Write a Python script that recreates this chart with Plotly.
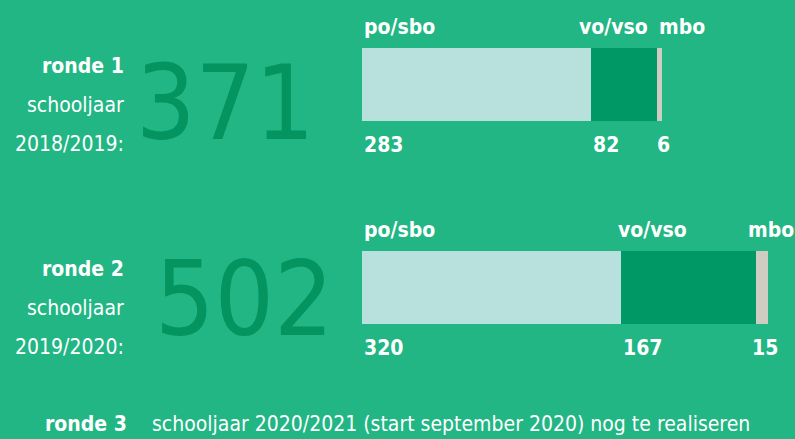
import plotly.graph_objects as go

rounds = ["ronde 1", "ronde 2"]
years = ["2018/2019:", "2019/2020:"]
segments = ["po/sbo", "vo/vso", "mbo"]
po_sbo = [283, 320]
vo_vso = [82, 167]
mbo = [6, 15]
footer_bold = "ronde 3"
footer_text = "schooljaar 2020/2021 (start september 2020) nog te realiseren"

BG = "#21b684"
colors = ["#b8e1dd", "#009966", "#cfcdc1"]
FONT = "DejaVu Sans Condensed"

series = [po_sbo, vo_vso, mbo]
fig = go.Figure()
for name, vals, col in zip(segments, series, colors):
    fig.add_trace(go.Bar(
        y=rounds, x=vals, orientation="h", name=name,
        marker=dict(color=col, line=dict(width=0)),
        width=0.36, hoverinfo="skip", showlegend=False,
    ))

annotations = []
label_shift = {0: [0, -14, 0], 1: [0, -5, -10]}
value_shift = {0: [0, 0, -2], 1: [0, 0, -6]}
for i, r in enumerate(rounds):
    start = 0
    for j, (name, vals) in enumerate(zip(segments, series)):
        annotations.append(dict(
            x=start, y=r, xref="x", yref="y", text=f"<b>{name}</b>",
            xanchor="left", yanchor="middle", yshift=58,
            xshift=label_shift[i][j], showarrow=False,
            font=dict(family=FONT, size=21, color="white")))
        annotations.append(dict(
            x=start, y=r, xref="x", yref="y", text=f"<b>{vals[i]}</b>",
            xanchor="left", yanchor="middle", yshift=-60,
            xshift=value_shift[i][j], showarrow=False,
            font=dict(family=FONT, size=21, color="white")))
        start += vals[i]
    for txt, dy in [(f"<b>{r}</b>", 19), ("schooljaar", -20), (years[i], -59)]:
        annotations.append(dict(
            x=0.159, y=r, xref="paper", yref="y", text=txt,
            xanchor="right", yanchor="middle", yshift=dy, showarrow=False,
            font=dict(family=FONT, size=21, color="white")))
    total = po_sbo[i] + vo_vso[i] + mbo[i]
    annotations.append(dict(
        x=0.284 if i == 0 else 0.308, y=r, xref="paper", yref="y", text=str(total),
        xanchor="center", yanchor="middle", yshift=-18 if i == 0 else -11,
        showarrow=False,
        font=dict(family="DejaVu Sans Condensed", size=104, color="#03945f")))

annotations.append(dict(
    x=0.162, y=0.035, xref="paper", yref="paper", text=f"<b>{footer_bold}</b>",
    xanchor="right", yanchor="middle", showarrow=False,
    font=dict(family=FONT, size=21, color="white")))
annotations.append(dict(
    x=0.189, y=0.035, xref="paper", yref="paper", text=footer_text,
    xanchor="left", yanchor="middle", showarrow=False,
    font=dict(family=FONT, size=21, color="white")))

fig.update_layout(
    barmode="stack", bargap=0,
    width=795, height=439,
    margin=dict(l=0, r=0, t=0, b=0),
    paper_bgcolor=BG, plot_bgcolor=BG,
    xaxis=dict(range=[-447.5, 535.2], visible=False, fixedrange=True),
    yaxis=dict(range=[1.7463, -0.4163], visible=False, fixedrange=True),
    annotations=annotations,
)
fig.write_html("out.html", config={"displayModeBar": False},
               post_script="document.body.style.margin='0';document.body.style.background='%s';" % BG)
